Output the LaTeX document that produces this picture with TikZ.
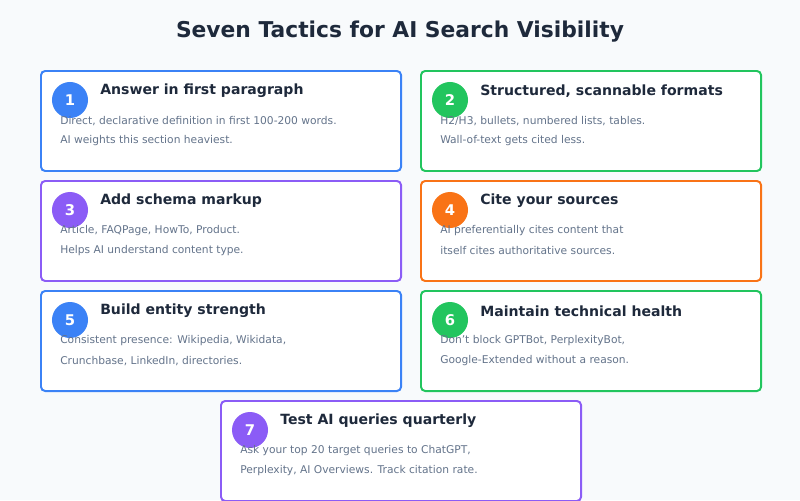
\documentclass[tikz,border=0pt]{standalone}
\usepackage{fontspec}
\setmainfont{DejaVu Sans}
\usetikzlibrary{positioning}
\definecolor{bgc}{HTML}{F8FAFC}
\definecolor{ink}{HTML}{1E293B}
\definecolor{muted}{HTML}{64748B}
\definecolor{cblue}{HTML}{3B82F6}
\definecolor{cgreen}{HTML}{22C55E}
\definecolor{cpurple}{HTML}{8B5CF6}
\definecolor{corange}{HTML}{F97316}
\tikzset{
card/.style = {rectangle, draw=#1, line width=1.4pt, rounded corners=3pt, fill=white, anchor=north west, minimum height=2.5cm, inner sep=0pt},
badge/.style = {circle, fill=#1, text=white, minimum size=0.9cm, inner sep=0pt, font=\fontsize{10.5}{12}\selectfont\bfseries},
head/.style = {anchor=west, inner sep=0pt, text=ink, font=\fontsize{10}{12}\selectfont\bfseries},
desc/.style = {anchor=west, inner sep=0pt, text=muted, font=\fontsize{7.6}{9}\selectfont}
}
\begin{document}
\begin{tikzpicture}[x=0.025cm, y=-0.025cm]
\useasboundingbox (0,0) rectangle (800,500);
\fill[bgc] (0,0) rectangle (800,500);
\clip (0,0) rectangle (800,500);

\node (title) [text=ink, font=\fontsize{15.5}{18}\selectfont\bfseries] at (400,32) {Seven Tactics for AI Search Visibility};

% row 1
\node (c1) [card=cblue, minimum width=9cm] at (40,70) {};
\node (n1) [badge=cblue] at (70,100) {1};
\node (h1) [head] at (100,91) {Answer in first paragraph};
\node (a1) [desc] at (60,121) {Direct, declarative definition in first 100-200 words.};
\node (b1) [desc] at (60,141) {AI weights this section heaviest.};

\node (c2) [card=cgreen, minimum width=8.5cm] at (420,70) {};
\node (n2) [badge=cgreen] at (450,100) {2};
\node (h2) [head] at (480,91) {Structured, scannable formats};
\node (a2) [desc] at (440,121) {H2/H3, bullets, numbered lists, tables.};
\node (b2) [desc] at (440,141) {Wall-of-text gets cited less.};

% row 2
\node (c3) [card=cpurple, minimum width=9cm] at (40,180) {};
\node (n3) [badge=cpurple] at (70,210) {3};
\node (h3) [head] at (100,201) {Add schema markup};
\node (a3) [desc] at (60,231) {Article, FAQPage, HowTo, Product.};
\node (b3) [desc] at (60,251) {Helps AI understand content type.};

\node (c4) [card=corange, minimum width=8.5cm] at (420,180) {};
\node (n4) [badge=corange] at (450,210) {4};
\node (h4) [head] at (480,201) {Cite your sources};
\node (a4) [desc] at (440,231) {AI preferentially cites content that};
\node (b4) [desc] at (440,251) {itself cites authoritative sources.};

% row 3
\node (c5) [card=cblue, minimum width=9cm] at (40,290) {};
\node (n5) [badge=cblue] at (70,320) {5};
\node (h5) [head] at (100,311) {Build entity strength};
\node (a5) [desc] at (60,341) {Consistent presence: Wikipedia, Wikidata,};
\node (b5) [desc] at (60,361) {Crunchbase, LinkedIn, directories.};

\node (c6) [card=cgreen, minimum width=8.5cm] at (420,290) {};
\node (n6) [badge=cgreen] at (450,320) {6};
\node (h6) [head] at (480,311) {Maintain technical health};
\node (a6) [desc] at (440,341) {Don't block GPTBot, PerplexityBot,};
\node (b6) [desc] at (440,361) {Google-Extended without a reason.};

% row 4
\node (c7) [card=cpurple, minimum width=9cm] at (220,400) {};
\node (n7) [badge=cpurple] at (250,430) {7};
\node (h7) [head] at (280,421) {Test AI queries quarterly};
\node (a7) [desc] at (240,451) {Ask your top 20 target queries to ChatGPT,};
\node (b7) [desc] at (240,471) {Perplexity, AI Overviews. Track citation rate.};

\end{tikzpicture}
\end{document}
